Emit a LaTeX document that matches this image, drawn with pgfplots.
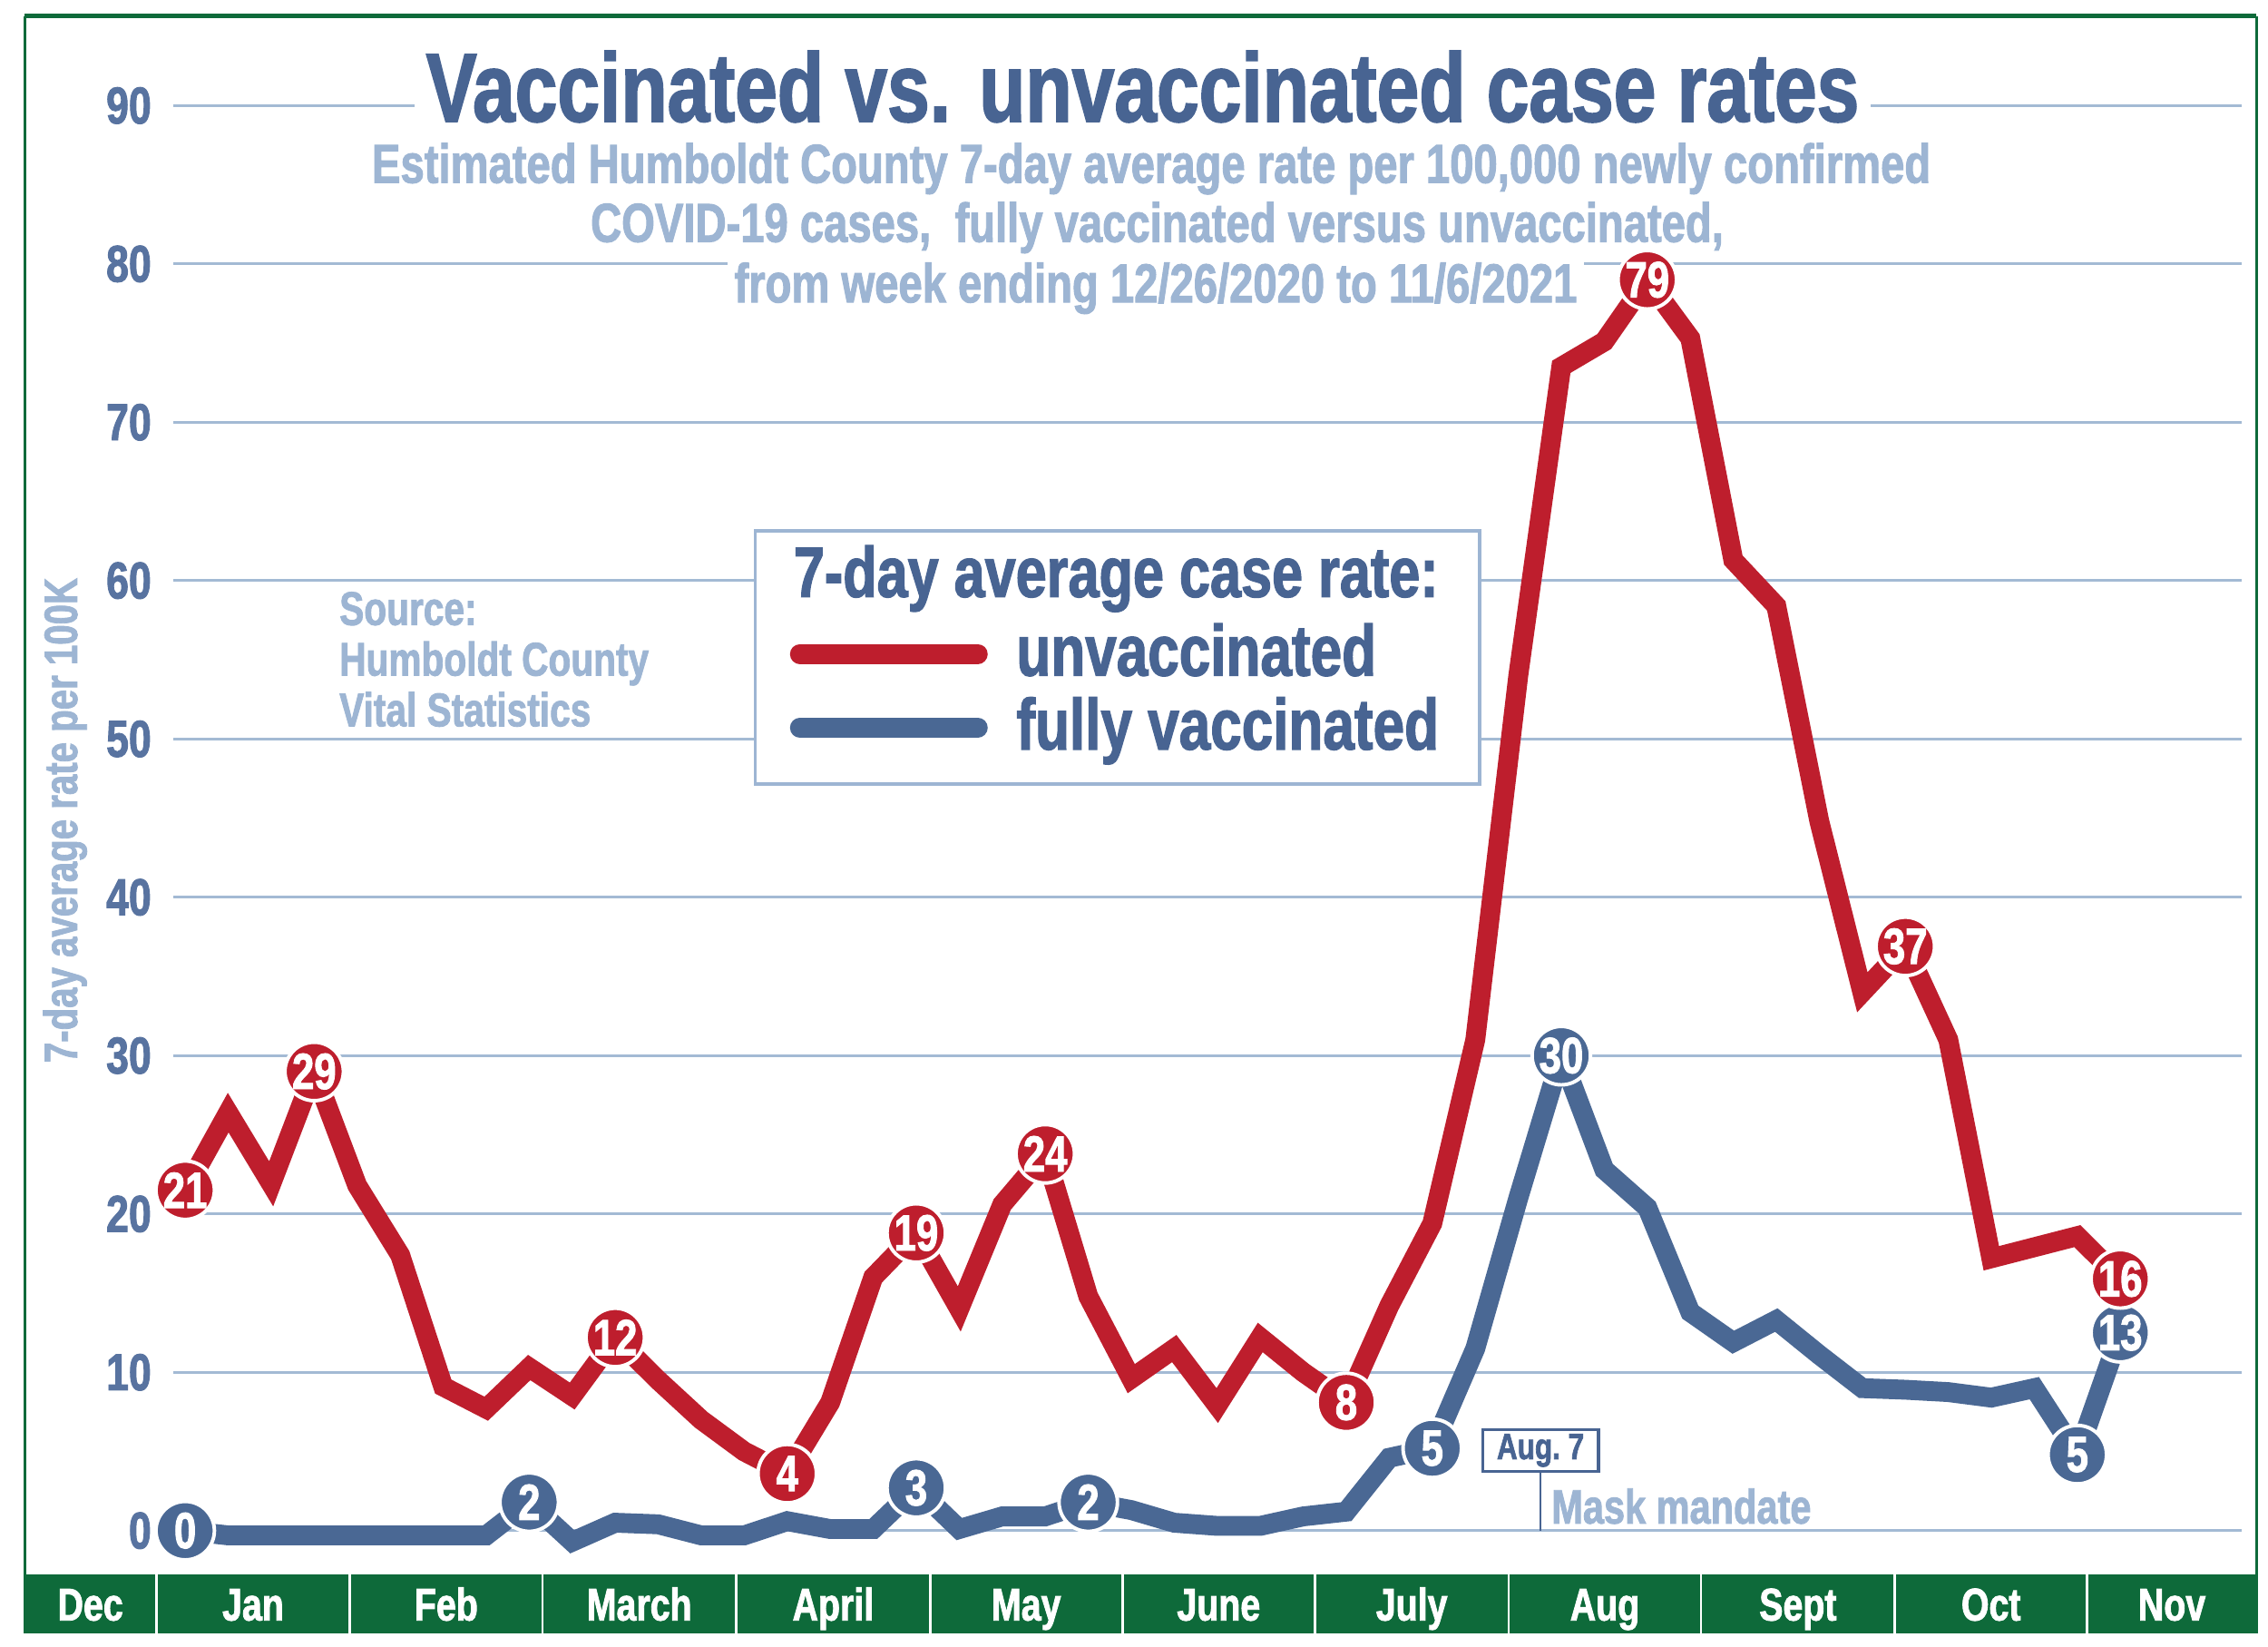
\documentclass[border=0pt]{standalone}
\usepackage{fontspec}
\setmainfont{Liberation Sans}[FakeStretch=0.78, BoldFeatures={FakeBold=1.6}]
\usepackage{pgfplots}
\pgfplotsset{compat=1.18}

\definecolor{redline}{RGB}{190,30,45}
\definecolor{blueline}{RGB}{74,104,148}
\definecolor{steel}{RGB}{72,100,146}
\definecolor{tickblue}{RGB}{88,115,160}
\definecolor{lightblue}{RGB}{157,181,211}
\definecolor{gridblue}{RGB}{163,186,212}
\definecolor{bandgreen}{RGB}{14,106,58}

\newcommand{\fs}[1]{\fontsize{#1}{#1}\selectfont}

\begin{document}
\bfseries
\begin{tikzpicture}
\useasboundingbox (0,0) rectangle (156.8mm,113.8mm);

\begin{axis}[
    at={(12mm,5.05mm)}, anchor=south west,
    scale only axis, width=143mm, height=107.47mm,
    xmin=-0.27, xmax=47.83, ymin=-2.7, ymax=95.5,
    axis line style={draw=none},
    xtick=\empty,
    ytick={0,10,...,90},
    major tick length=0pt,
    ymajorgrids,
    grid style={gridblue, line width=0.55pt},
    yticklabel style={font=\fs{10.2}, text=tickblue, xshift=-0.3mm},
    /pgf/number format/assume math mode=true,
    clip=false,
]

% fully vaccinated, weekly 7-day average per 100K
\addplot[blueline, line width=3.9pt, miter limit=3] coordinates {
    (0,0) (1,-0.3) (2,-0.3) (3,-0.3) (4,-0.3) (5,-0.3) (6,-0.3) (7,-0.3)
    (8,1.8) (9,-0.7) (10,0.5) (11,0.4) (12,-0.3) (13,-0.3) (14,0.6) (15,0.1)
    (16,0.1) (17,2.7) (18,0.1) (19,0.9) (20,0.9) (21,1.8) (22,1.3) (23,0.5)
    (24,0.3) (25,0.3) (26,0.9) (27,1.2) (28,4.6) (29,5.2) (30,11.5) (31,21.0)
    (32,30.0) (33,22.8) (34,20.4) (35,13.8) (36,11.9) (37,13.3) (38,11.1) (39,9.0)
    (40,8.9) (41,8.75) (42,8.4) (43,9.0) (44,4.8) (45,12.5)
};

% unvaccinated
\addplot[redline, line width=3.9pt, miter limit=3] coordinates {
    (0,21.5) (1,26.4) (2,21.9) (3,29.0) (4,21.8) (5,17.4) (6,9.1) (7,7.7)
    (8,10.3) (9,8.5) (10,12.2) (11,9.5) (12,7.0) (13,5.0) (14,3.6) (15,8.1)
    (16,16.0) (17,18.8) (18,14.0) (19,20.6) (20,23.8) (21,14.8) (22,9.6) (23,11.5)
    (24,7.9) (25,12.2) (26,10.0) (27,8.1) (28,14.2) (29,19.4) (30,31.0) (31,54.0)
    (32,73.5) (33,75.1) (34,79.0) (35,75.3) (36,61.3) (37,58.4) (38,44.8) (39,34.0)
    (40,36.9) (41,31.0) (42,17.2) (43,17.9) (44,18.6) (45,15.9)
};

% labelled points
\addplot[only marks, mark=*, mark size=2.02mm,
    mark options={fill=blueline, draw=white, line width=0.7pt},
    nodes near coords, point meta=explicit symbolic,
    nodes near coords style={font=\fs{10}, text=white, anchor=center}]
    coordinates {
    (0,0) [0] (8,1.8) [2] (17,2.7) [3] (21,1.8) [2] (29,5.2) [5]
    (32,30.0) [30] (44,4.8) [5] (45,12.5) [13]
};
\addplot[only marks, mark=*, mark size=2.02mm,
    mark options={fill=redline, draw=white, line width=0.7pt},
    nodes near coords, point meta=explicit symbolic,
    nodes near coords style={font=\fs{10}, text=white, anchor=center}]
    coordinates {
    (0,21.5) [21] (3,29.0) [29] (10,12.2) [12] (14,3.6) [4] (17,18.8) [19]
    (20,23.8) [24] (27,8.1) [8] (34,79.0) [79] (40,36.9) [37] (45,15.9) [16]
};
\end{axis}

\begin{scope}[x=0.1mm, y=-0.1mm, shift={(0,113.8mm)}]
% frame and month band
\fill[bandgreen] (17,1088) rectangle (1560,1129);
\draw[bandgreen, line width=0.9pt] (17,11) -- (1560,11);
\draw[bandgreen, line width=0.5pt] (17,11) -- (17,1129) (1560,11) -- (1560,1129);
\foreach \x in {108,242,375,509,643,776,909,1043,1176,1310,1443}
    \draw[white, line width=0.5pt] (\x,1088) -- (\x,1129);
\foreach \x/\m in {62.5/Dec, 175/Jan, 308.5/Feb, 442/March, 576/April,
    709.5/May, 842.5/June, 976/July, 1109.5/Aug, 1243/Sept, 1376.5/Oct, 1501.5/Nov}
    \node[anchor=base, text=white, font=\fs{9}, inner sep=0] at (\x,1120) {\m};

% titles
\node[anchor=base, fill=white, inner xsep=0.8mm, inner ysep=0.5mm, text=steel,
    font=\fs{19.2}] at (790,84) {Vaccinated vs. unvaccinated case rates};
\node[anchor=base, text=lightblue, font=\fs{10.8}, inner sep=0] at (796,126.4)
    {Estimated Humboldt County 7-day average rate per 100,000 newly confirmed};
\node[anchor=base, text=lightblue, font=\fs{10.8}, inner sep=0] at (800,167.2)
    {COVID-19 cases,\ \ fully vaccinated versus unvaccinated,};
\node[anchor=base, text=lightblue, font=\fs{10.8}, fill=white, inner xsep=0.5mm,
    inner ysep=0.6mm] at (799,209) {from week ending 12/26/2020 to 11/6/2021};

% y label
\node[rotate=90, text=lightblue, font=\fs{9.2}] at (45,567) {7-day average rate per 100K};

% source
\node[anchor=base west, text=lightblue, font=\fs{9.3}, inner sep=0] at (234,432) {Source:};
\node[anchor=base west, text=lightblue, font=\fs{9.3}, inner sep=0] at (234,467) {Humboldt County};
\node[anchor=base west, text=lightblue, font=\fs{9.3}, inner sep=0] at (234,502) {Vital Statistics};

% legend
\draw[lightblue, line width=0.6pt, fill=white] (522,367) rectangle (1023,542);
\node[anchor=base west, text=steel, font=\fs{14}, inner sep=0] at (548,412.6) {7-day average case rate:};
\draw[redline, line width=3.9pt, line cap=round] (553,452) -- (676,452);
\draw[blueline, line width=3.9pt, line cap=round] (553,503) -- (676,503);
\node[anchor=base west, text=steel, font=\fs{14.2}, inner sep=0] at (702,467) {unvaccinated};
\node[anchor=base west, text=steel, font=\fs{14.2}, inner sep=0] at (702,518) {fully vaccinated};

% mask mandate note
\draw[steel, line width=0.5pt] (1065,1017) -- (1065,1058);
\node[draw=steel, line width=0.6pt, fill=white, text=steel, font=\fs{7.2},
    minimum width=8mm, minimum height=2.9mm, inner sep=0.3mm] at (1065,1002.5) {Aug.~7};
\node[anchor=base west, text=lightblue, font=\fs{9.5}, inner sep=0] at (1072,1053) {Mask mandate};
\end{scope}
\end{tikzpicture}
\end{document}
